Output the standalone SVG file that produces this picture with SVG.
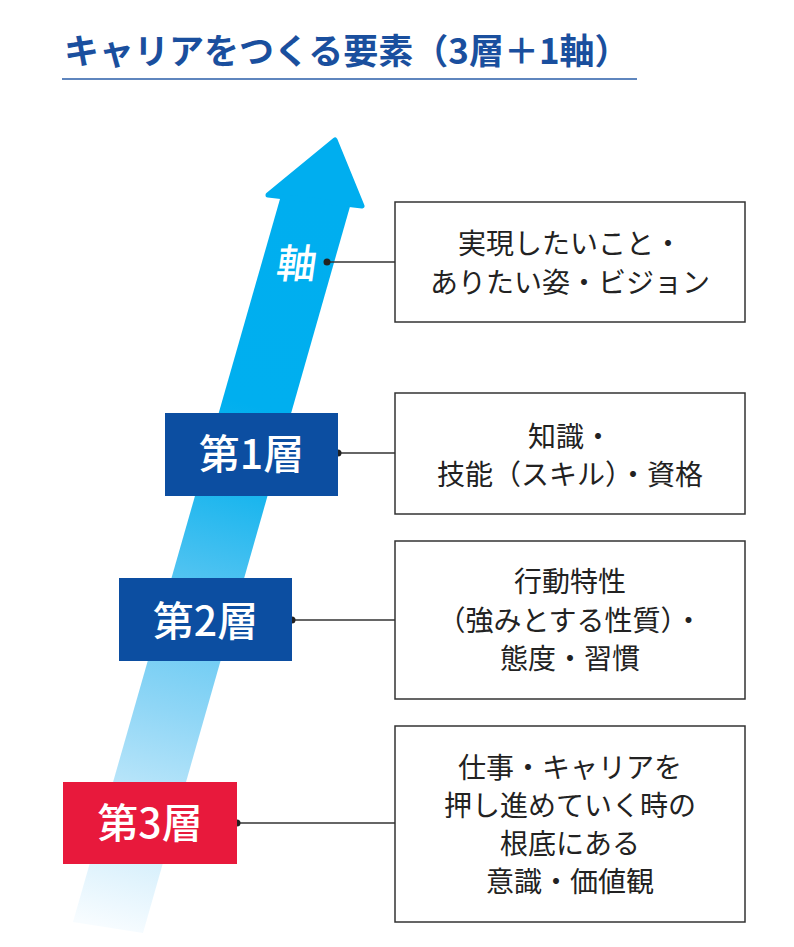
<svg xmlns="http://www.w3.org/2000/svg" width="794" height="947" viewBox="0 0 794 947">
<defs>
<style>
text{font-family:"Noto Sans CJK JP","Noto Sans CJK SC",sans-serif;}
.title{font-size:35px;font-weight:700;fill:#1a4f9e;}
.layer{font-size:41px;font-weight:500;fill:#ffffff;text-anchor:middle;}
.desc{font-size:28px;font-weight:400;fill:#222222;text-anchor:middle;}
.box{fill:#ffffff;stroke:#333333;stroke-width:1.5;}
.conn{stroke:#333333;stroke-width:1.5;fill:none;}
.dot{fill:#222222;}
.blue{fill:#0c4ea1;}
.red{fill:#e8193c;}
</style>
<linearGradient id="shaftGrad" gradientUnits="userSpaceOnUse" x1="108" y1="928" x2="314" y2="203">
<stop offset="0" stop-color="#f7fcff"/>
<stop offset="0.1" stop-color="#d8f0fc"/>
<stop offset="0.3" stop-color="#8fd6f6"/>
<stop offset="0.45" stop-color="#5cc6f2"/>
<stop offset="0.6" stop-color="#1cb6ee"/>
<stop offset="0.72" stop-color="#00afef"/>
<stop offset="1" stop-color="#00aeef"/>
</linearGradient>
</defs>
<rect width="794" height="947" fill="#ffffff"/>

<g id="title">
<text class="title" x="64" y="64">キャリアをつくる要素（3層＋1軸）</text>
<line x1="62" y1="79" x2="637" y2="79" stroke="#2a5ea8" stroke-width="1.5"/>
</g>

<g id="axis-arrow">
<polygon points="282,192 351,203 143,933 73,922" fill="url(#shaftGrad)"/>
<polygon points="335,140 362,206 268,195" fill="#00aeef" stroke="#00aeef" stroke-width="5" stroke-linejoin="round"/>
<g transform="translate(297,263) skewX(-8)">
<text x="0" y="15" style="font-size:40px;font-weight:500;fill:#ffffff;text-anchor:middle;">軸</text>
</g>
</g>

<g id="connectors">
<line class="conn" x1="327" y1="262" x2="395" y2="262"/>
<line class="conn" x1="338" y1="453" x2="395" y2="453"/>
<line class="conn" x1="292" y1="620" x2="395" y2="620"/>
<line class="conn" x1="237" y1="823" x2="395" y2="823"/>
<circle class="dot" cx="327" cy="262" r="3.5"/>
<circle class="dot" cx="338" cy="453" r="3.5"/>
<circle class="dot" cx="292" cy="620" r="3.5"/>
<circle class="dot" cx="237" cy="823" r="3.5"/>
</g>

<g id="layer1">
<rect class="blue" x="165" y="413" width="173" height="83"/>
<text class="layer" x="251.5" y="469">第1層</text>
</g>
<g id="layer2">
<rect class="blue" x="119" y="578" width="173" height="83"/>
<text class="layer" x="205.5" y="636">第2層</text>
</g>
<g id="layer3">
<rect class="red" x="63" y="782" width="174" height="82"/>
<text class="layer" x="150" y="838">第3層</text>
</g>

<g id="desc-axis">
<rect class="box" x="395" y="202" width="350" height="120"/>
<text class="desc" x="570" y="254">実現したいこと・</text>
<text class="desc" x="570" y="293">ありたい姿・ビジョン</text>
</g>
<g id="desc-layer1">
<rect class="box" x="395" y="393" width="350" height="121"/>
<text class="desc" x="570" y="447">知識・</text>
<text class="desc" x="570" y="485">技能（スキル）・資格</text>
</g>
<g id="desc-layer2">
<rect class="box" x="395" y="541" width="350" height="158"/>
<text class="desc" x="570" y="592">行動特性</text>
<text class="desc" x="570" y="631">（強みとする性質）・</text>
<text class="desc" x="570" y="669">態度・習慣</text>
</g>
<g id="desc-layer3">
<rect class="box" x="395" y="726" width="350" height="196"/>
<text class="desc" x="570" y="778">仕事・キャリアを</text>
<text class="desc" x="570" y="816">押し進めていく時の</text>
<text class="desc" x="570" y="854">根底にある</text>
<text class="desc" x="570" y="892">意識・価値観</text>
</g>
</svg>
